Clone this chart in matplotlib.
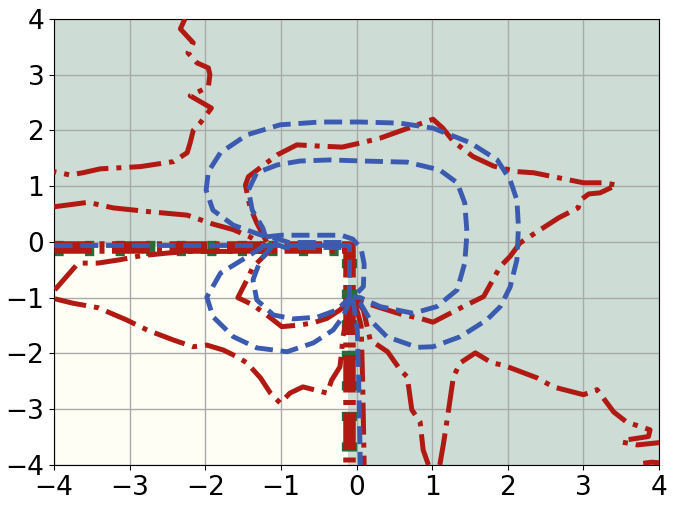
"""
Decision regions with level curves, traced from the reference picture.
"""

import matplotlib
matplotlib.use('Agg')
import matplotlib.pyplot as plt
from matplotlib.patches import Rectangle

# region boundary (corner of the lower-left region)
corner_x = -0.12
corner_y = -0.1

# green boundary line
green_x = [-4, -0.1, -0.1]
green_y = [-0.11, -0.11, -4]

# red dash-dot curves
red_band_x = [-4, -0.1, -0.1]
red_band_y = [-0.1, -0.1, -4]

red_1_x = [-2.27, -2.33, -2.16, -2.23, -2.11, -1.96, -1.94, -1.96, -2.2,
           -1.92, -2.07, -2.16, -2.2, -2.24, -2.42, -2.86, -3.39, -3.62,
           -3.79, -4.0]
red_1_y = [4.0, 3.82, 3.57, 3.39, 3.21, 3.12, 3.0, 2.78, 2.62, 2.4, 2.13,
           2.0, 1.78, 1.6, 1.44, 1.35, 1.31, 1.24, 1.2, 1.26]

red_2_x = [-4.0, -3.55, -3.22, -2.73, -2.24, -1.9, -1.63, -1.41, -1.14,
           -1.37, -1.45, -1.57, -1.37, -1.14, -0.99, -0.75, -0.57, -0.39,
           -0.22, -0.07]
red_2_y = [0.63, 0.71, 0.61, 0.54, 0.48, 0.32, 0.22, 0.09, -0.14, -0.45,
           -0.68, -1.0, -1.13, -1.36, -1.52, -1.49, -1.45, -1.37, -1.22,
           -1.02]

red_3_x = [-3.99, -3.68, -3.42, -3.13, -2.86, -2.5, -2.2, -1.2]
red_3_y = [-0.86, -0.38, -0.38, -0.32, -0.25, -0.2, -0.17, -0.17]

red_4_x = [-3.99, -3.75, -3.42, -3.04, -2.77, -2.42, -2.16, -1.98, -1.76,
           -1.58, -1.45, -1.27, -1.14, -1.01, -0.88, -0.71, -0.39, -0.33,
           -0.22, -0.2, -0.18, -0.08]
red_4_y = [-1.02, -1.1, -1.18, -1.4, -1.58, -1.76, -1.88, -1.85, -1.94,
           -2.06, -2.17, -2.44, -2.71, -2.89, -2.71, -2.6, -2.71, -2.48,
           -2.24, -2.0, -1.7, -1.0]

red_5_x = [-1.19, -1.32, -1.41, -1.47, -1.43, -1.05, -0.79, -0.52, -0.19,
           0.07, 0.31, 0.62, 1.01, 1.14, 1.28, 1.54, 1.81, 2.12, 2.34,
           2.67, 3.0, 3.26, 3.44, 3.22, 3.07, 2.96, 2.93, 2.67, 2.43, 2.16,
           2.03, 1.9, 1.68, 1.41, 1.01, 0.84, 0.62, 0.31, 0.0]
red_5_y = [0.0, 0.34, 0.63, 1.02, 1.17, 1.56, 1.74, 1.72, 1.7, 1.78, 1.86,
           2.01, 2.2, 2.04, 1.8, 1.53, 1.36, 1.26, 1.24, 1.15, 1.06, 1.06,
           1.02, 0.88, 0.86, 0.75, 0.61, 0.43, 0.22, -0.02, -0.26, -0.44,
           -0.98, -1.16, -1.44, -1.37, -1.31, -1.18, -1.04]

red_6_x = [-0.02, 0.09, 0.18, 0.41, 0.58, 0.67, 0.73, 0.84, 0.88, 0.95]
red_6_y = [-1.0, -1.22, -1.76, -1.97, -2.3, -2.42, -3.01, -3.23, -3.73, -4.0]

red_7_x = [1.1, 1.15, 1.21, 1.28, 1.37, 1.57, 1.79, 1.94, 2.39, 2.6, 3.0,
           3.18, 3.4, 3.57, 3.88, 3.86, 3.57, 3.51, 3.71, 4.0]
red_7_y = [-4.0, -3.61, -3.07, -2.42, -2.17, -1.99, -2.17, -2.21, -2.44,
           -2.6, -2.74, -2.65, -3.05, -3.23, -3.37, -3.49, -3.55, -3.59,
           -3.64, -3.6]

red_8_x = [-0.04, 0.06, 0.08, 0.1]
red_8_y = [-1.0, -1.5, -2.5, -4.0]

red_9_x = [3.79, 3.9, 4.0]
red_9_y = [-3.97, -3.95, -3.96]

# blue dashed curves
blue_band_x = [-4, -0.1, -0.1]
blue_band_y = [-0.06, -0.06, -1.0]

blue_1_x = [-0.2, -0.9, -1.01, -1.28, -1.63, -1.9, -1.99, -1.96, -1.8,
            -1.45, -1.01, -0.48, 0.05, 0.57, 1.01, 1.5, 1.86, 2.03, 2.12,
            2.14, 2.12, 2.03, 1.9, 1.72, 1.37, 1.01, 0.8, 0.4, 0.18, 0.05,
            -0.05]
blue_1_y = [-0.01, -0.01, 0.04, 0.13, 0.3, 0.57, 0.93, 1.26, 1.6, 1.92,
            2.1, 2.15, 2.15, 2.13, 2.04, 1.78, 1.47, 1.11, 0.75, 0.27,
            -0.32, -0.81, -1.16, -1.4, -1.7, -1.88, -1.89, -1.7, -1.4, -1.1,
            -1.0]

blue_2_x = [-1.2, -1.24, -1.38, -1.43, -1.32, -1.05, -0.75, -0.35, 0.09,
            0.67, 1.1, 1.33, 1.43, 1.46, 1.43, 1.33, 1.06, 0.75, 0.31, 0.05,
            -0.05]
blue_2_y = [0.08, 0.25, 0.57, 0.93, 1.24, 1.38, 1.45, 1.47, 1.45, 1.43,
            1.29, 1.06, 0.7, 0.16, -0.38, -0.86, -1.16, -1.28, -1.16, -1.0,
            -0.98]

blue_3_x = [-1.2, -1.0, -0.2, -0.05, 0.06, 0.1, 0.09, -0.05]
blue_3_y = [0.09, 0.12, 0.12, 0.05, -0.12, -0.4, -0.8, -1.0]

blue_4_x = [-0.2, -0.95, -1.14, -1.45, -1.8, -1.98, -1.9, -1.63, -1.32,
            -0.92, -0.57, -0.31, -0.18, -0.07]
blue_4_y = [-0.1, -0.1, 0.0, -0.27, -0.56, -0.99, -1.34, -1.7, -1.9, -1.97,
            -1.81, -1.58, -1.34, -1.0]

blue_5_x = [-1.1, -1.27, -1.37, -1.32, -1.1, -0.84, -0.52, -0.26, -0.09]
blue_5_y = [-0.05, -0.32, -0.68, -1.04, -1.31, -1.38, -1.35, -1.22, -1.0]

blue_6_x = [-0.05, 0.01, 0.03, 0.05]
blue_6_y = [-1.0, -1.6, -2.6, -4.0]

red_lines = [(red_1_x, red_1_y), (red_2_x, red_2_y),
             (red_3_x, red_3_y), (red_4_x, red_4_y), (red_5_x, red_5_y),
             (red_6_x, red_6_y), (red_7_x, red_7_y), (red_8_x, red_8_y),
             (red_9_x, red_9_y)]
blue_lines = [(blue_1_x, blue_1_y), (blue_2_x, blue_2_y),
              (blue_3_x, blue_3_y), (blue_4_x, blue_4_y),
              (blue_5_x, blue_5_y), (blue_6_x, blue_6_y)]

fig = plt.figure(figsize=(6.76, 5.09), dpi=100)
ax = fig.add_axes([0.08, 0.0865, 0.895, 0.8765])

ax.set_facecolor('#cddcd5')
ax.add_patch(Rectangle((-4, -4), corner_x + 4, corner_y + 4,
                       facecolor='#fefef5', edgecolor='none', zorder=1))

# thick boundary: green dashes under a wide red dash-dot and a blue dash
ax.plot(green_x, green_y, color='#2b6a3b', linewidth=11, linestyle='--',
        dashes=(0.6, 1.4), zorder=2)
ax.plot(red_band_x, red_band_y, color='#b01a12', linewidth=9,
        dashes=(3.0, 0.6, 0.4, 0.6), zorder=3)
ax.plot(blue_band_x, blue_band_y, color='#3a5bb0', linewidth=3.5,
        linestyle='--', zorder=4)

for xs, ys in red_lines:
    ax.plot(xs, ys, color='#b01a12', linewidth=3.6, linestyle='-.', zorder=3)
for xs, ys in blue_lines:
    ax.plot(xs, ys, color='#3a5bb0', linewidth=3.5, linestyle='--', zorder=4)

ax.set_xlim(-4, 4)
ax.set_ylim(-4, 4)
ax.set_xticks(range(-4, 5))
ax.set_yticks(range(-4, 5))
ax.tick_params(labelsize=19)
ax.grid(True, color='#aaaaaa', linewidth=1)

plt.savefig('out.png', dpi=100)
